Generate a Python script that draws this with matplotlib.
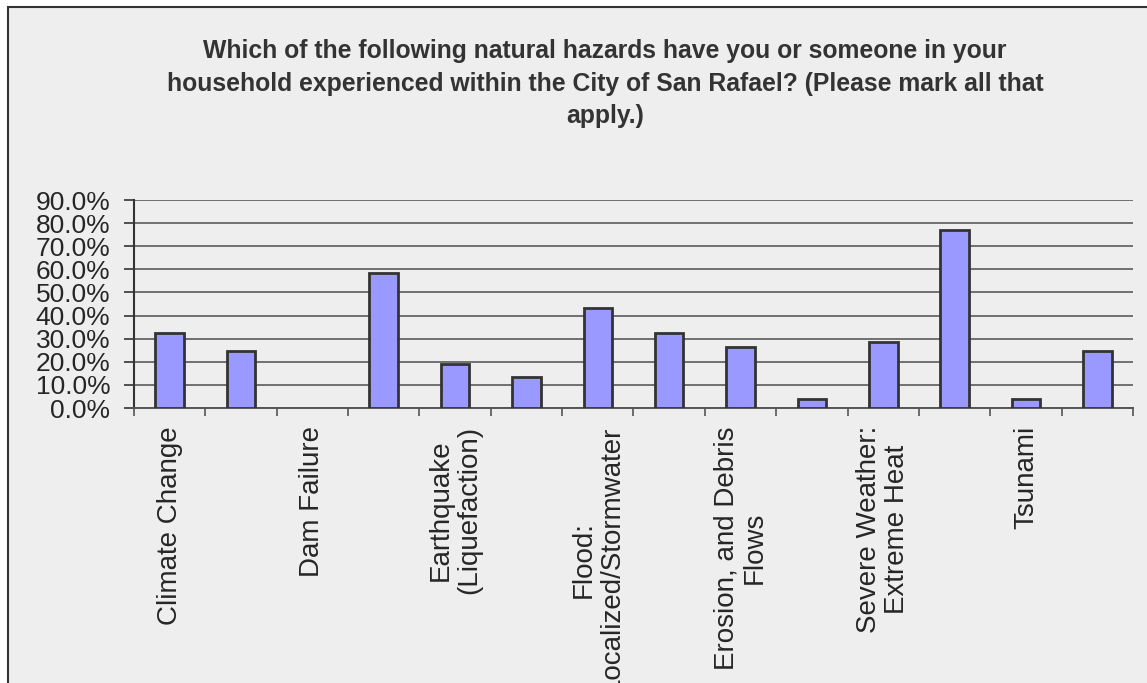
import matplotlib
matplotlib.use("Agg")
import matplotlib.pyplot as plt
from matplotlib.patches import Rectangle
from matplotlib.ticker import PercentFormatter, FixedLocator
import numpy as np

# data (share of respondents)
labels = [
    "Climate Change", "", "Dam Failure", "",
    "Earthquake\n(Liquefaction)", "", "Flood:\nLocalized/Stormwater", "",
    "Erosion, and Debris\nFlows", "", "Severe Weather:\nExtreme Heat", "",
    "Tsunami", "",
]
values = [0.323, 0.245, 0.0, 0.582, 0.19, 0.133, 0.433,
          0.323, 0.262, 0.041, 0.284, 0.772, 0.041, 0.245]
y_ticks = [0.0, 0.1, 0.2, 0.3, 0.4, 0.5, 0.6, 0.7, 0.8, 0.9]

title = ("Which of the following natural hazards have you or someone in your\n"
         "household experienced within the City of San Rafael? (Please mark all that\n"
         "apply.)")

plt.rcParams['font.family'] = ['Liberation Sans', 'DejaVu Sans']

W, H = 1147, 683
fig = plt.figure(figsize=(W / 100, H / 100), dpi=100)
fig.patch.set_facecolor('white')

# chart frame (cropped on the right and bottom)
fig.patches.append(Rectangle((8 / W, -0.1), 1.2, 1 - 7 / H + 0.1,
                             transform=fig.transFigure, facecolor='#eeeeee',
                             edgecolor='#333333', linewidth=1.5, zorder=-10))

ax = fig.add_axes([134 / W, 1 - 408 / H, (1133 - 134) / W, (408 - 200) / H])
ax.set_facecolor('#eeeeee')

x = np.arange(len(values))
# empty categories get no outline, as in the original
edges = ['#333333' if v > 0 else 'none' for v in values]
ax.bar(x, values, width=0.4, color='#9999ff', edgecolor=edges,
       linewidth=2, zorder=3)

ax.set_xlim(-0.5, len(values) - 0.5)
ax.set_ylim(0, 0.9)
ax.set_yticks(y_ticks)
ax.yaxis.set_major_formatter(PercentFormatter(1.0, decimals=1))
ax.grid(axis='y', color='#707070', linewidth=1.4, zorder=1)

ax.set_xticks(x)
ax.set_xticklabels(labels, rotation=90, fontsize=20, color='#262626',
                   linespacing=1.1)
ax.xaxis.set_minor_locator(FixedLocator(np.arange(len(values) + 1) - 0.5))
ax.tick_params(axis='x', which='major', length=0, pad=13)
ax.tick_params(axis='x', which='minor', length=6, width=1.2, color='#555555')
ax.tick_params(axis='y', length=7, width=1.2, color='#333333', pad=10,
               labelsize=19, labelcolor='#262626')

for s in ['top', 'right']:
    ax.spines[s].set_visible(False)
ax.spines['left'].set_color('#333333')
ax.spines['left'].set_linewidth(1.5)
ax.spines['bottom'].set_color('#555555')
ax.spines['bottom'].set_linewidth(1.4)

fig.text(605 / W, 1 - 39 / H, title, ha='center', va='top', fontsize=17.8,
         fontweight='bold', color='#333333', linespacing=1.45)

fig.savefig('out.png', dpi=100, facecolor=fig.get_facecolor())
